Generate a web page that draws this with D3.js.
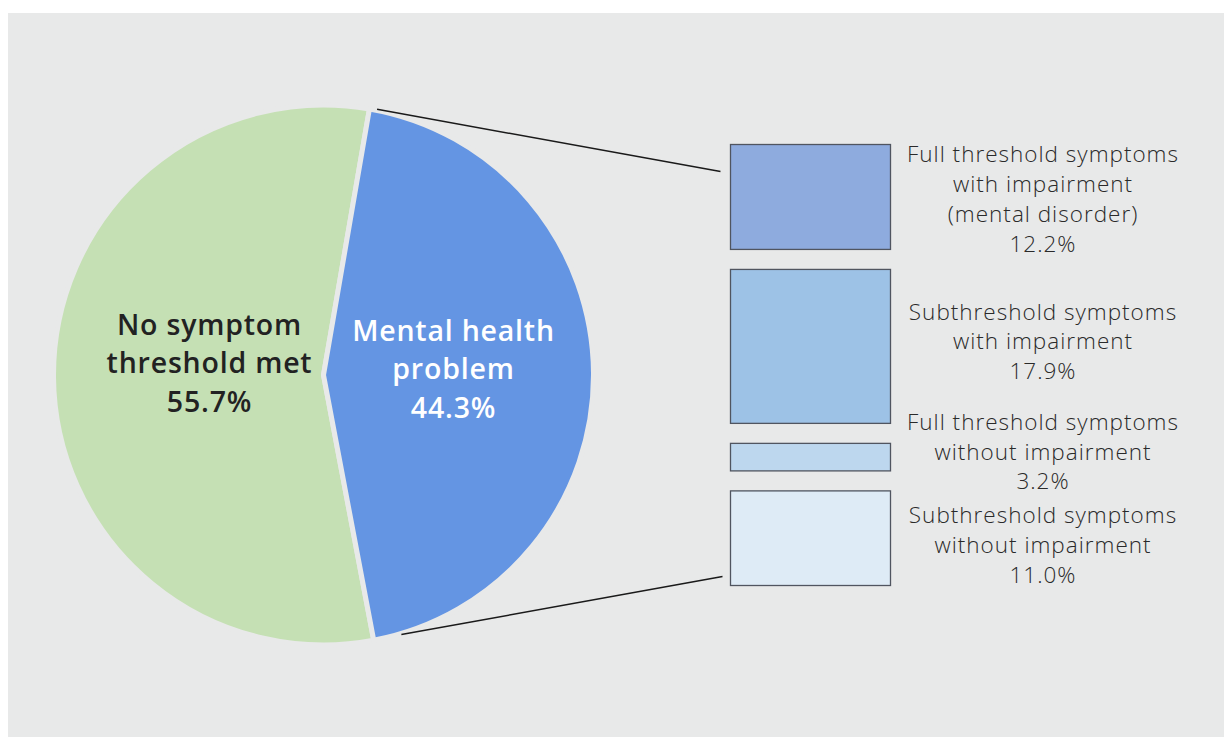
<!DOCTYPE html>
<html>
<head>
<meta charset="utf-8">
<script src="https://cdn.jsdelivr.net/npm/d3@7"></script>
<style>
  html, body { margin: 0; padding: 0; background: #ffffff; }
  svg { display: block; }
</style>
</head>
<body>
<svg id="chart" width="1224" height="737"></svg>
<script>
// Overall split of respondents
const mainCategories = ["No symptom threshold met", "Mental health problem"];
const mainValues = [55.7, 44.3];
const mainLabelLines = [["No symptom", "threshold met", "55.7%"], ["Mental health", "problem", "44.3%"]];

// Breakdown of the "Mental health problem" slice
const subCategories = [
  "Full threshold symptoms with impairment (mental disorder)",
  "Subthreshold symptoms with impairment",
  "Full threshold symptoms without impairment",
  "Subthreshold symptoms without impairment"
];
const subValues = [12.2, 17.9, 3.2, 11.0];
const subLabelLines = [
  ["Full threshold symptoms", "with impairment", "(mental disorder)", "12.2%"],
  ["Subthreshold symptoms", "with impairment", "17.9%"],
  ["Full threshold symptoms", "without impairment", "3.2%"],
  ["Subthreshold symptoms", "without impairment", "11.0%"]
];

const W = 1224, H = 737;
const bg = "#e8e9e9";
const svg = d3.select("#chart");

// panel background
svg.append("rect").attr("x", 8).attr("y", 13).attr("width", W - 8).attr("height", H - 13).attr("fill", bg);

// ---- Pie ----
const cx = 323.5, cy = 375, R = 270;
const pieColors = d3.scaleOrdinal().domain(mainCategories).range(["#c5e0b4", "#6495e3"]);
const blueStart = 9.8 * Math.PI / 180;
const blueSpan = mainValues[1] / 100 * 2 * Math.PI;

// green starts where blue ends, blue wraps round to finish at the top
const pie = d3.pie().sort(null).value(d => d.value)
  .startAngle(blueStart + blueSpan)
  .endAngle(blueStart + blueSpan + 2 * Math.PI);
const pieData = pie([{ name: mainCategories[0], value: mainValues[0] }, { name: mainCategories[1], value: mainValues[1] }]);
const arc = d3.arc().innerRadius(0).outerRadius(R);

const g = svg.append("g").attr("transform", `translate(${cx},${cy})`);
g.selectAll("path.slice").data(pieData).join("path")
  .attr("class", "slice")
  .attr("d", arc)
  .attr("fill", d => pieColors(d.data.name))
  .attr("stroke", bg)
  .attr("stroke-width", 5)
  .attr("stroke-linejoin", "miter");

// slice labels
const labelPos = [[-114, -40], [130, -34]];
const labelColor = ["#222222", "#ffffff"];
pieData.forEach((d, i) => {
  const t = g.append("text")
    .attr("text-anchor", "middle")
    .attr("font-family", "'Open Sans', Lato, sans-serif")
    .attr("font-weight", 600)
    .attr("font-size", 28.5)
    .attr("letter-spacing", 0.8)
    .attr("fill", labelColor[i]);
  mainLabelLines[i].forEach((line, j) => {
    t.append("tspan").attr("x", labelPos[i][0]).attr("y", labelPos[i][1] + j * 38.3).text(line);
  });
});

// ---- Stacked breakdown boxes ----
const boxX = 730.5, boxW = 160, boxTop = 144.5, gap = 20;
const hScale = d3.scaleLinear().domain([0, d3.sum(subValues)]).range([0, 381]);
const boxColors = d3.scaleOrdinal().domain(subCategories).range(["#8eabde", "#9dc2e6", "#bdd7ee", "#deebf6"]);

let yAcc = boxTop;
const boxes = subValues.map((v, i) => {
  const b = { name: subCategories[i], value: v, y: yAcc, h: hScale(v) };
  yAcc += b.h + gap;
  return b;
});

svg.selectAll("rect.box").data(boxes).join("rect")
  .attr("class", "box")
  .attr("x", boxX).attr("y", d => d.y)
  .attr("width", boxW).attr("height", d => d.h)
  .attr("fill", d => boxColors(d.name))
  .attr("stroke", "#505560").attr("stroke-width", 1.3);

// labels beside each box, nudged so neighbouring blocks keep clear of each other
const lineH = 29.7;
const nudge = [2, -5, -5.5, 7];
boxes.forEach((b, i) => {
  const lines = subLabelLines[i];
  const mid = b.y + b.h / 2 + nudge[i];
  const first = mid - (lines.length - 1) * lineH / 2 + 8;
  const t = svg.append("text")
    .attr("text-anchor", "middle")
    .attr("font-family", "'Open Sans', Lato, sans-serif")
    .attr("font-weight", 300)
    .attr("font-size", 22.5)
    .attr("letter-spacing", 1.0)
    .attr("fill", "#2a2a2a");
  lines.forEach((line, j) => {
    t.append("tspan").attr("x", 1043).attr("y", first + j * lineH).text(line);
  });
});

// connector lines from the blue slice to the box stack
const pt = (ang, r) => [cx + r * Math.sin(ang), cy - r * Math.cos(ang)];
const topStart = pt(11.4 * Math.PI / 180, R + 1);
const botStart = pt(163.3 * Math.PI / 180, R + 1);
const first = boxes[0], last = boxes[boxes.length - 1];
const connectors = [
  [topStart, [boxX - 10, first.y + 27]],
  [botStart, [boxX - 8, last.y + last.h - 9]]
];
svg.selectAll("line.conn").data(connectors).join("line")
  .attr("class", "conn")
  .attr("x1", d => d[0][0]).attr("y1", d => d[0][1])
  .attr("x2", d => d[1][0]).attr("y2", d => d[1][1])
  .attr("stroke", "#1a1a1a").attr("stroke-width", 1.5);
</script>
</body>
</html>
